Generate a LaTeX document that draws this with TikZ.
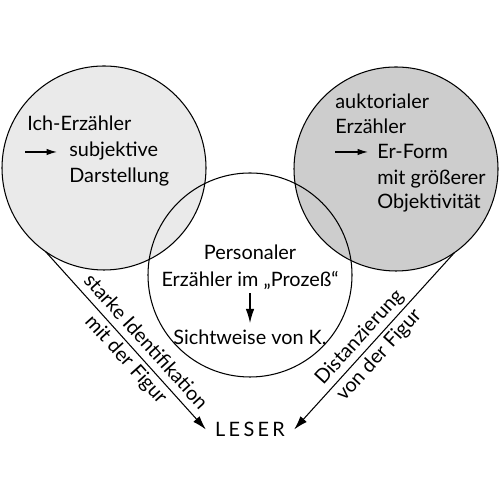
\documentclass[tikz,border=0pt]{standalone}
\usepackage{fontspec}
\setmainfont{Lato}
\usetikzlibrary{arrows.meta,calc}
\definecolor{hell}{RGB}{234,234,234}
\definecolor{dunkel}{RGB}{205,205,205}
\tikzset{
  >={Latex[length=2.8mm,width=1.7mm]},
  kreis/.style={circle,draw=black,line width=0.6pt,fill=#1,minimum size=4.08cm,
    inner sep=0pt,outer sep=0pt},
  kreis/.default=none,
  txt/.style={inner sep=0pt,font=\fontsize{11.3}{14.5}\selectfont},
  pfeil/.style={->,line width=0.6pt},
  kpfeil/.style={-{Latex[length=2.1mm,width=1.3mm]},line width=0.7pt},
  lbl/.style={sloped,align=center,inner sep=0pt,font=\fontsize{11.3}{15}\selectfont},
}
\begin{document}
\begin{tikzpicture}
  \useasboundingbox (0,0) rectangle (10,10);
  % Kreise
  \node[kreis=hell] (links) at (2.08,6.64) {};
  \node[kreis=dunkel] (rechts) at (7.92,6.62) {};
  \node[kreis] (mitte) at (5.00,4.50) {};

  \node[txt,anchor=base west] (ich) at (0.54,7.38) {Ich-Erzähler};
  \node[txt,anchor=base west] (subj) at (1.38,6.86) {subjektive};
  \node[txt,anchor=base west] (darst) at (1.38,6.34) {Darstellung};
  \coordinate (ichpfeil) at (0.50,6.96);
  \draw[kpfeil,shorten >=0.24cm] (ichpfeil) -- (ichpfeil -| subj.west);

  \node[txt,anchor=base west] (auk) at (6.70,7.82) {auktorialer};
  \node[txt,anchor=base west] (erz) at (6.70,7.32) {Erzähler};
  \node[txt,anchor=base west] (erform) at (7.54,6.82) {Er-Form};
  \node[txt,anchor=base west] (groesser) at (7.54,6.30) {mit größerer};
  \node[txt,anchor=base west] (objekt) at (7.54,5.82) {Objektivität};
  \coordinate (erpfeil) at (6.70,6.96);
  \draw[kpfeil,shorten >=0.18cm] (erpfeil) -- (erpfeil -| erform.west);

  \node[txt,anchor=base] (pers) at (5.00,4.80) {Personaler};
  \node[txt,anchor=base] (prozess) at (5.00,4.26) {Erzähler im „Prozeß“};
  \node[txt,anchor=base] (sicht) at (5.00,3.10) {Sichtweise von K.};
  \draw[pfeil,shorten <=1.5pt,shorten >=4pt] (prozess) -- (sicht);

  \node[txt,inner xsep=0.18cm] (leser) at (5.00,1.41) {L\,E\,S\,E\,R};
  \draw[pfeil] (links.235) -- node[lbl,pos=0.56] {starke Identifikation\\mit der Figur} (leser.west);
  \draw[pfeil] (rechts.305) -- node[lbl,pos=0.53] {Distanzierung\\von der Figur} (leser.east);
\end{tikzpicture}
\end{document}
